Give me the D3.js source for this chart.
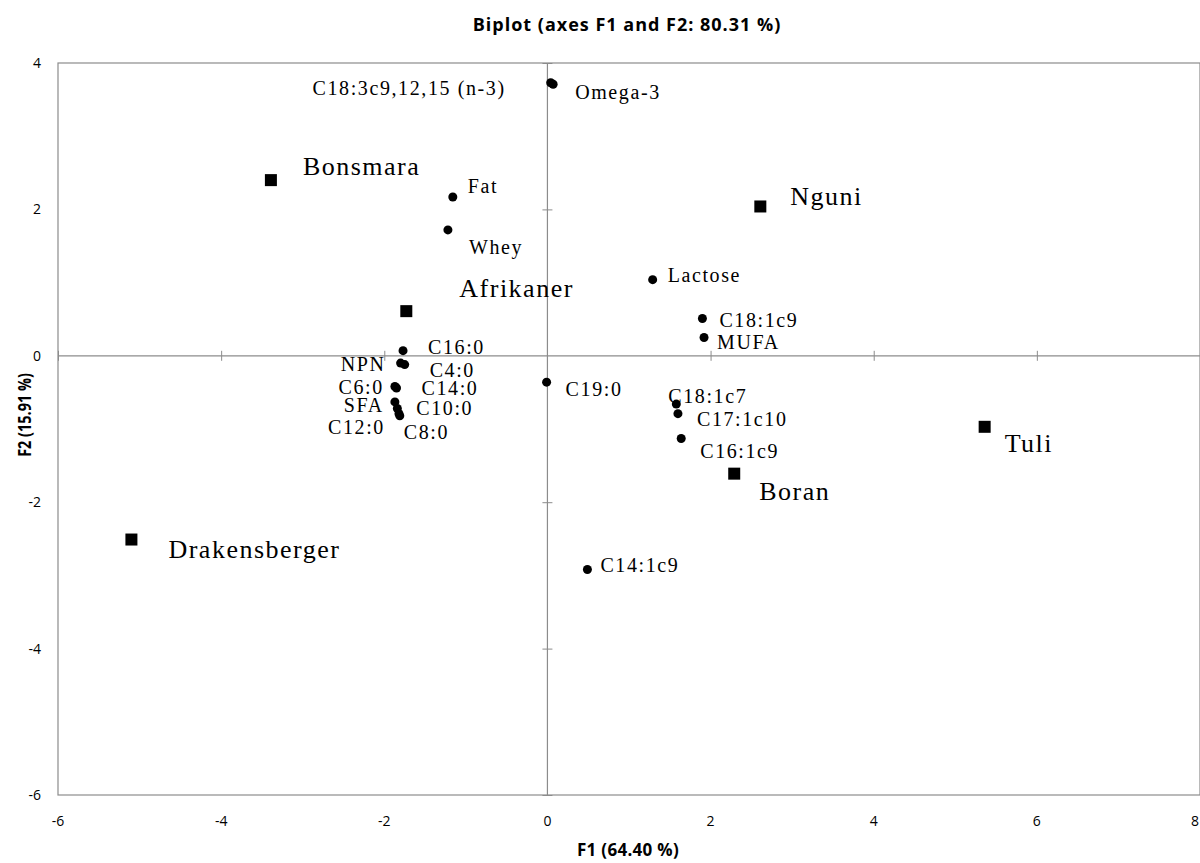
<!DOCTYPE html>
<html>
<head>
<meta charset="utf-8">
<script src="https://cdn.jsdelivr.net/npm/d3@7"></script>
<style>
  body { margin: 0; background: #fff; }
  .tick-label { font-family: "Liberation Sans Narrow", "Open Sans", sans-serif; font-size: 14px; }
  .axis-title { font-family: "Open Sans", sans-serif; font-size: 18px; font-weight: bold; }
  .pt-label { font-family: "Liberation Serif", "DejaVu Serif", serif; font-size: 20px; letter-spacing: 1.6px; }
  .obs-label { font-family: "Liberation Serif", "DejaVu Serif", serif; font-size: 26px; letter-spacing: 1.5px; }
</style>
</head>
<body>
<div id="plot"></div>
<script>
// Breeds (observations) - squares
var breedNames = ["Bonsmara", "Nguni", "Afrikaner", "Tuli", "Boran", "Drakensberger"];
var breedF1 = [-3.39, 2.61, -1.73, 5.36, 2.29, -5.10];
var breedF2 = [2.40, 2.04, 0.61, -0.97, -1.61, -2.51];

// Variables - circles
var varNames = ["C18:3c9,12,15 (n-3)", "Omega-3", "Fat", "Whey", "Lactose", "C18:1c9", "MUFA",
  "C16:0", "NPN", "C4:0", "C6:0", "C14:0", "SFA", "C10:0", "C12:0", "C8:0",
  "C19:0", "C18:1c7", "C17:1c10", "C16:1c9", "C14:1c9"];
var varF1 = [0.04, 0.07, -1.16, -1.22, 1.29, 1.90, 1.92,
  -1.77, -1.80, -1.75, -1.87, -1.85, -1.87, -1.84, -1.82, -1.81,
  -0.01, 1.58, 1.60, 1.64, 0.49];
var varF2 = [3.73, 3.71, 2.17, 1.72, 1.04, 0.51, 0.25,
  0.07, -0.10, -0.12, -0.42, -0.44, -0.63, -0.72, -0.79, -0.82,
  -0.36, -0.66, -0.79, -1.13, -2.92];

var xTicks = [-6, -4, -2, 0, 2, 4, 6, 8];
var yTicks = [-6, -4, -2, 0, 2, 4];

// label placement (pixel offsets of the text baseline from the marker, anchor)
var breedLabelPos = [[32, -5], [30, -1], [53, -14], [20, 25], [25, 26], [37, 18]];
var varLabelPos = [[-45, 12, "end"], [22, 15], [15, -4], [21, 24], [15, 2], [17, 9], [13, 11],
  [25, 3], [-15, 8, "end"], [25, 12], [-11, 7, "end"], [25, 7], [-11, 10, "end"], [19, 6],
  [-14, 20, "end"], [4, 23], [19, 14], [-8, -1], [19, 12], [19, 19], [13, 2]];

function init() {
  var w = 1200, h = 863;
  var left = 58, right = 1200, top = 63, bottom = 795;

  var svg = d3.select("#plot").append("svg")
    .attr("width", w).attr("height", h);

  var x = d3.scaleLinear().domain([-6, 8]).range([left, right]);
  var y = d3.scaleLinear().domain([-6, 4]).range([bottom, top]);

  // frame
  svg.append("rect")
    .attr("x", left).attr("y", top)
    .attr("width", right - left).attr("height", bottom - top)
    .attr("fill", "none").attr("stroke", "#8c8c8c").attr("stroke-width", 1.2);

  // zero axes with ticks
  var xAxis = d3.axisBottom(x).tickValues(xTicks.filter(function(d) { return d !== 0; }))
    .tickSize(10).tickFormat("");
  var gx = svg.append("g").attr("transform", "translate(0," + (y(0) - 5) + ")").call(xAxis);
  gx.select(".domain").remove();
  gx.selectAll("line").attr("stroke", "#8c8c8c");
  svg.append("line").attr("x1", left).attr("x2", right).attr("y1", y(0)).attr("y2", y(0))
    .attr("stroke", "#8c8c8c").attr("stroke-width", 1.2);

  var yAxis = d3.axisLeft(y).tickValues(yTicks.filter(function(d) { return d !== 0; }))
    .tickSize(10).tickFormat("");
  var gy = svg.append("g").attr("transform", "translate(" + (x(0) + 5) + ",0)").call(yAxis);
  gy.select(".domain").remove();
  gy.selectAll("line").attr("stroke", "#8c8c8c");
  svg.append("line").attr("x1", x(0)).attr("x2", x(0)).attr("y1", top).attr("y2", bottom)
    .attr("stroke", "#8c8c8c").attr("stroke-width", 1.2);

  // tick labels
  svg.selectAll(".xt").data(xTicks).enter().append("text")
    .attr("class", "tick-label").attr("text-anchor", "middle")
    .attr("x", function(d) { return Math.min(x(d), 1195); }).attr("y", 826)
    .text(function(d) { return d; });
  svg.selectAll(".yt").data(yTicks).enter().append("text")
    .attr("class", "tick-label").attr("text-anchor", "end")
    .attr("x", 41).attr("y", function(d) { return y(d) + 5; })
    .text(function(d) { return d; });

  // titles
  svg.append("text").attr("class", "axis-title").attr("text-anchor", "middle")
    .style("letter-spacing", "1px")
    .attr("x", 627).attr("y", 31).text("Biplot (axes F1 and F2: 80.31 %)");
  svg.append("text").attr("class", "axis-title").attr("text-anchor", "middle")
    .style("letter-spacing", "0.3px").style("font-size", "17px")
    .attr("x", 628).attr("y", 856).text("F1 (64.40 %)");
  svg.append("text").attr("class", "axis-title").attr("text-anchor", "middle")
    .style("font-size", "17px")
    .attr("transform", "translate(31,415) rotate(-90) scale(0.85,1)").text("F2 (15.91 %)");

  // variable points
  varNames.forEach(function(n, i) {
    svg.append("circle").attr("cx", x(varF1[i])).attr("cy", y(varF2[i]))
      .attr("r", 4.5).attr("fill", "#000");
  });
  varNames.forEach(function(n, i) {
    var p = varLabelPos[i];
    svg.append("text").attr("class", "pt-label")
      .attr("text-anchor", p[2] || "start")
      .attr("x", x(varF1[i]) + p[0]).attr("y", y(varF2[i]) + p[1])
      .text(n);
  });

  // breed squares
  breedNames.forEach(function(n, i) {
    svg.append("rect").attr("x", x(breedF1[i]) - 6).attr("y", y(breedF2[i]) - 6)
      .attr("width", 12).attr("height", 12).attr("fill", "#000");
    var p = breedLabelPos[i];
    svg.append("text").attr("class", "obs-label")
      .attr("x", x(breedF1[i]) + p[0]).attr("y", y(breedF2[i]) + p[1])
      .text(n);
  });
}

window.onload = init;
</script>
</body>
</html>
